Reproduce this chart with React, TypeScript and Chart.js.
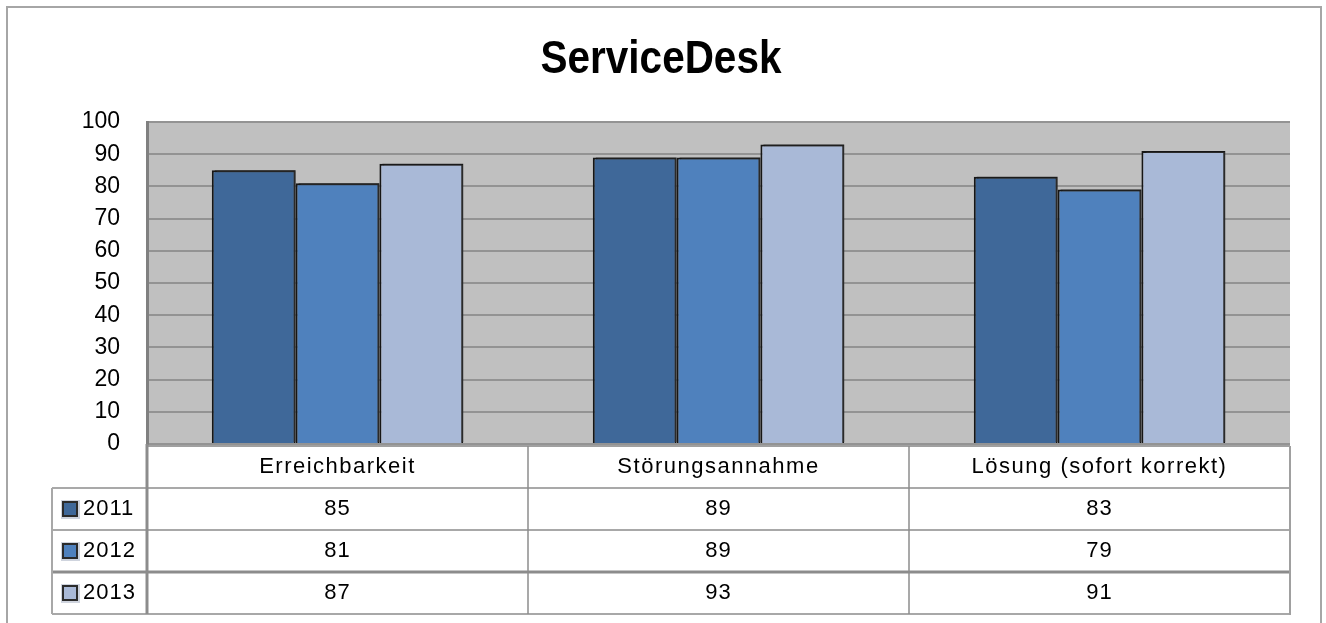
import { useEffect, useRef } from 'react';
import { Chart, registerables } from 'chart.js';

Chart.register(...registerables);

const chartTitle = 'ServiceDesk';
const categories = ['Erreichbarkeit', 'Störungsannahme', 'Lösung (sofort korrekt)'];
const seriesLabels = ['2011', '2012', '2013'];
const values2011 = [85, 89, 83];
const values2012 = [81, 89, 79];
const values2013 = [87, 93, 91];
const seriesValues = [values2011, values2012, values2013];
const seriesColors = ['#3F6899', '#4F81BD', '#A9B9D7'];
const yMin = 0;
const yMax = 100;
const yStep = 10;

const FONT = '"Liberation Sans", Arial, sans-serif';

const tablePlugin = {
  id: 'excelTable',
  beforeDraw(chart: any) {
    const { ctx, chartArea: a } = chart;
    ctx.save();
    ctx.fillStyle = '#ffffff';
    ctx.fillRect(0, 0, chart.width, chart.height);
    ctx.strokeStyle = '#a6a6a6';
    ctx.lineWidth = 2;
    ctx.strokeRect(7, 7, chart.width - 12, chart.height + 20);
    ctx.fillStyle = '#c0c0c0';
    ctx.fillRect(a.left, a.top, a.right - a.left, a.bottom - a.top);
    ctx.restore();
  },
  beforeDatasetsDraw(chart: any) {
    const ctx = chart.ctx;
    ctx.save();
    ctx.shadowColor = 'rgba(50,50,50,0.75)';
    ctx.shadowOffsetX = 3;
    ctx.shadowOffsetY = -1;
    ctx.shadowBlur = 0;
  },
  afterDatasetsDraw(chart: any) {
    chart.ctx.restore();
  },
  afterDraw(chart: any) {
    const { ctx, chartArea: a } = chart;
    ctx.save();
    // title
    ctx.fillStyle = '#000';
    ctx.font = `bold 46px ${FONT}`;
    ctx.textAlign = 'center';
    ctx.textBaseline = 'middle';
    ctx.save();
    ctx.translate(chart.width / 2 - 2, 60);
    ctx.scale(0.88, 1);
    ctx.fillText(chartTitle, 0, 0);
    ctx.restore();

    // data table
    const n = categories.length;
    const colW = (a.right - a.left) / n;
    const top = a.bottom + 2;
    const rowH = 42;
    const legendLeft = a.left - 95;
    const bottom = top + rowH * (seriesLabels.length + 1);

    ctx.font = `22px ${FONT}`;
    (ctx as any).letterSpacing = '1.5px';
    ctx.fillStyle = '#000';
    categories.forEach((c, i) => {
      ctx.fillText(c, a.left + colW * (i + 0.5), top + rowH / 2);
    });
    (ctx as any).letterSpacing = '1px';
    seriesLabels.forEach((s, r) => {
      const cy = top + rowH * (r + 1) + rowH / 2;
      seriesValues[r].forEach((v, i) => {
        ctx.textAlign = 'center';
        ctx.fillStyle = '#000';
        ctx.fillText(String(v), a.left + colW * (i + 0.5), cy);
      });
      // legend key
      ctx.fillStyle = 'rgba(160,170,190,0.5)';
      ctx.fillRect(legendLeft + 9, cy - 9, 19, 19);
      ctx.fillStyle = seriesColors[r];
      ctx.fillRect(legendLeft + 10, cy - 8, 16, 16);
      ctx.strokeStyle = '#2b2b2b';
      ctx.lineWidth = 2;
      ctx.strokeRect(legendLeft + 11, cy - 7, 14, 14);
      ctx.fillStyle = '#000';
      ctx.textAlign = 'left';
      ctx.fillText(s, legendLeft + 31, cy);
    });
    (ctx as any).letterSpacing = '0px';

    const hline = (y: number, x1: number, x2: number, w: number, col: string) => {
      ctx.strokeStyle = col;
      ctx.lineWidth = w;
      ctx.beginPath();
      ctx.moveTo(x1, y);
      ctx.lineTo(x2, y);
      ctx.stroke();
    };
    const vline = (x: number, y1: number, y2: number, w: number, col: string) => {
      ctx.strokeStyle = col;
      ctx.lineWidth = w;
      ctx.beginPath();
      ctx.moveTo(x, y1);
      ctx.lineTo(x, y2);
      ctx.stroke();
    };
    hline(top, a.left, a.right, 2, '#a0a0a0');
    hline(top + rowH, legendLeft, a.right, 1.5, '#8c8c8c');
    hline(top + rowH * 2, legendLeft, a.right, 2, '#a8a8a8');
    hline(top + rowH * 3, legendLeft, a.right, 3, '#8c8c8c');
    hline(bottom, legendLeft, a.right, 2, '#a8a8a8');
    vline(legendLeft, top + rowH, bottom, 2, '#a8a8a8');
    vline(a.left, top - 2, bottom, 3, '#8c8c8c');
    for (let i = 1; i < n; i++) {
      vline(a.left + colW * i, top, bottom, 1.5, '#8c8c8c');
    }
    vline(a.right, top, bottom + 1, 2, '#a0a0a0');
    ctx.restore();
  },
};

export default function App() {
  const ref = useRef<HTMLCanvasElement | null>(null);
  useEffect(() => {
    if (!ref.current) return;
    const chart = new Chart(ref.current, {
      type: 'bar',
      data: {
        labels: categories,
        datasets: seriesLabels.map((s, i) => ({
          label: s,
          data: seriesValues[i],
          backgroundColor: seriesColors[i],
          borderColor: '#161616',
          borderWidth: 2,
          categoryPercentage: 0.66,
          barPercentage: 1.0,
        })),
      },
      options: {
        responsive: false,
        animation: false,
        layout: { padding: { top: 122, bottom: 179, right: 36, left: 0 } },
        plugins: {
          legend: { display: false },
          title: { display: false },
          tooltip: { enabled: false },
        },
        scales: {
          x: { display: false },
          y: {
            min: yMin,
            max: yMax,
            ticks: {
              stepSize: yStep,
              color: '#000',
              padding: 27,
              font: { family: FONT, size: 23 },
            },
            grid: { color: '#939393', lineWidth: 2, drawTicks: false },
            border: { color: '#808080', width: 3 },
            afterFit: (scale: any) => {
              scale.width = 147;
            },
          },
        },
      },
      plugins: [tablePlugin],
    });
    return () => chart.destroy();
  }, []);
  return (
    <div style={{ position: 'absolute', left: 0, top: 0, width: 1326, height: 623 }}>
      <canvas ref={ref} width={1326} height={623} style={{ display: 'block' }} />
    </div>
  );
}
